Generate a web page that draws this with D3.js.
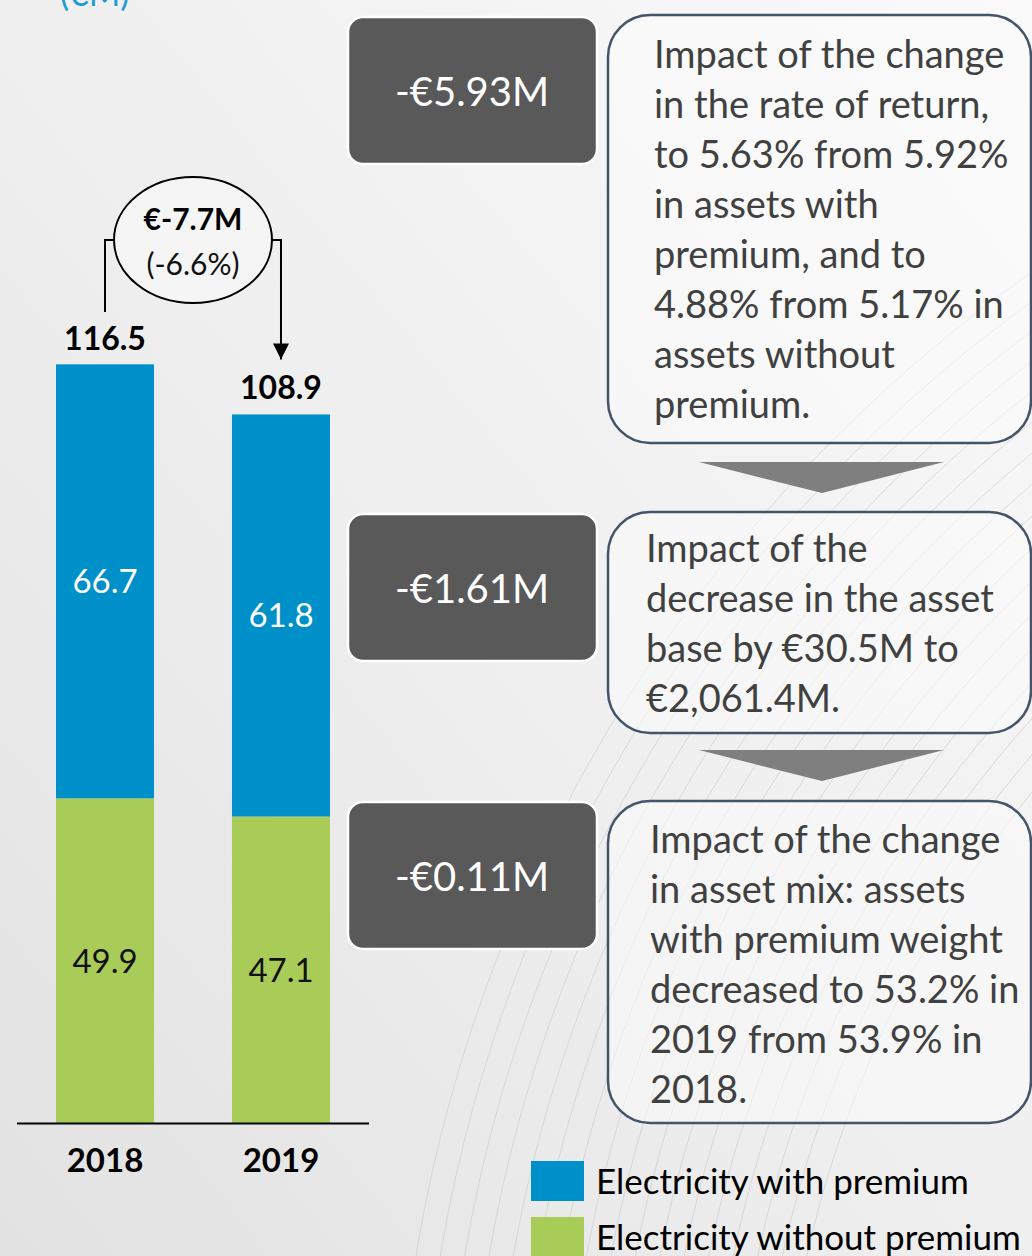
<!DOCTYPE html>
<html>
<head>
<meta charset="utf-8">
<script src="https://cdn.jsdelivr.net/npm/d3@7"></script>
<style>
  html, body { margin: 0; padding: 0; background: #eeeeee; }
  svg { display: block; font-family: Lato, "Open Sans", sans-serif; }
</style>
</head>
<body>
<div id="chart"></div>
<script>
// chart values
var years = ["2018", "2019"];
var withPremium = [66.7, 61.8];
var withoutPremium = [49.9, 47.1];
var totals = [116.5, 108.9];
var seriesNames = ["Electricity with premium", "Electricity without premium"];
var changeLabel = ["€-7.7M", "(-6.6%)"];
var impactValues = ["-€5.93M", "-€1.61M", "-€0.11M"];
var impactNotes = [
    ["Impact of the change", "in the rate of return,", "to 5.63% from 5.92%", "in assets with",
     "premium, and to", "4.88% from 5.17% in", "assets without", "premium."],
    ["Impact of the", "decrease in the asset", "base by €30.5M to", "€2,061.4M."],
    ["Impact of the change", "in asset mix: assets", "with premium weight", "decreased to 53.2% in",
     "2019 from 53.9% in", "2018."]
];

var width = 1032,
    height = 1256;

var blue = "#0090c9",
    green = "#a9cc59";

var svg = d3.select("#chart").append("svg")
    .attr("width", width)
    .attr("height", height);

var defs = svg.append("defs");

var bg = defs.append("linearGradient")
    .attr("id", "bg")
    .attr("x1", "100%").attr("y1", "0%")
    .attr("x2", "0%").attr("y2", "100%");
bg.append("stop").attr("offset", "0%").attr("stop-color", "#fafafa");
bg.append("stop").attr("offset", "55%").attr("stop-color", "#eeeeee");
bg.append("stop").attr("offset", "100%").attr("stop-color", "#e2e2e2");

svg.append("rect")
    .attr("width", width)
    .attr("height", height)
    .attr("fill", "url(#bg)");

// faint decorative arcs on the right
var arcs = svg.append("g")
    .attr("fill", "none")
    .attr("stroke", "#c8c8c8")
    .attr("stroke-width", 1)
    .attr("opacity", 0.55);
d3.range(1120, 1520, 24).forEach(function(r) {
    arcs.append("circle")
        .attr("cx", 1900)
        .attr("cy", 1500)
        .attr("r", r);
});

// unit label, clipped at top like the source
svg.append("text")
    .attr("x", 60)
    .attr("y", 6)
    .attr("fill", "#1b9bd7")
    .attr("font-size", 34)
    .text("(€M)");

// bars
var x = d3.scaleBand()
    .domain(years)
    .range([17, 369])
    .paddingInner(0.443)
    .paddingOuter(0.2216);

var y = d3.scaleLinear()
    .domain([0, 116.5])
    .range([1123, 365]);

var rows = years.map(function(yr, i) {
    return { year: yr, without: withoutPremium[i], with: withPremium[i], total: totals[i] };
});

var stack = d3.stack().keys(["without", "with"]);
var layers = stack(rows);
var colors = { without: green, with: blue };
var labelColors = { without: "#111111", with: "#ffffff" };

var layerG = svg.selectAll(".layer")
    .data(layers)
    .enter().append("g")
    .attr("class", "layer")
    .attr("fill", function(d) { return colors[d.key]; });

layerG.selectAll("rect")
    .data(function(d) { return d; })
    .enter().append("rect")
    .attr("x", function(d) { return x(d.data.year); })
    .attr("y", function(d) { return y(d[1]); })
    .attr("width", x.bandwidth())
    .attr("height", function(d) { return y(d[0]) - y(d[1]); });

layers.forEach(function(layer) {
    svg.selectAll(".lbl-" + layer.key)
        .data(layer)
        .enter().append("text")
        .attr("class", "lbl-" + layer.key)
        .attr("x", function(d) { return x(d.data.year) + x.bandwidth() / 2; })
        .attr("y", function(d) { return (y(d[0]) + y(d[1])) / 2; })
        .attr("dy", "0.36em")
        .attr("text-anchor", "middle")
        .attr("font-size", 33)
        .attr("fill", labelColors[layer.key])
        .text(function(d) { return d.data[layer.key].toFixed(1); });
});

svg.selectAll(".total")
    .data(rows)
    .enter().append("text")
    .attr("class", "total")
    .attr("x", function(d) { return x(d.year) + x.bandwidth() / 2; })
    .attr("y", function(d) { return y(d.total) - 15; })
    .attr("text-anchor", "middle")
    .attr("font-size", 32)
    .attr("font-weight", "bold")
    .attr("fill", "#000")
    .text(function(d) { return d.total.toFixed(1); });

// baseline + year labels
var xAxis = svg.append("g")
    .attr("transform", "translate(0," + y(0) + ")")
    .call(d3.axisBottom(x).tickSize(0).tickPadding(26));
xAxis.select(".domain")
    .attr("d", "M17,0.5H369")
    .attr("stroke", "#000")
    .attr("stroke-width", 2);
xAxis.selectAll("text")
    .attr("font-family", "Lato, sans-serif")
    .attr("font-size", 33)
    .attr("font-weight", "bold")
    .attr("fill", "#000");

// change bubble
var c0 = x(years[0]) + x.bandwidth() / 2,
    c1 = x(years[1]) + x.bandwidth() / 2;
var ex = 193, ey = 240, erx = 79, ery = 63;

defs.append("marker")
    .attr("id", "arrow")
    .attr("viewBox", "0 0 10 10")
    .attr("refX", 10).attr("refY", 5)
    .attr("markerWidth", 16).attr("markerHeight", 16)
    .attr("markerUnits", "userSpaceOnUse")
    .attr("orient", "auto")
    .append("path")
    .attr("d", "M0,0L10,5L0,10Z")
    .attr("fill", "#000");

svg.append("path")
    .attr("d", "M" + c0 + "," + (y(totals[0]) - 53) + "V" + ey + "H" + (ex - erx))
    .attr("fill", "none")
    .attr("stroke", "#000")
    .attr("stroke-width", 2);

svg.append("path")
    .attr("d", "M" + (ex + erx) + "," + ey + "H" + c1 + "V" + (y(totals[1]) - 55))
    .attr("fill", "none")
    .attr("stroke", "#000")
    .attr("stroke-width", 2)
    .attr("marker-end", "url(#arrow)");

svg.append("ellipse")
    .attr("cx", ex).attr("cy", ey)
    .attr("rx", erx).attr("ry", ery)
    .attr("fill", "#f5f5f5")
    .attr("stroke", "#000")
    .attr("stroke-width", 2);

svg.append("text")
    .attr("x", ex).attr("y", 230)
    .attr("text-anchor", "middle")
    .attr("font-size", 30)
    .attr("font-weight", "bold")
    .text(changeLabel[0]);
svg.append("text")
    .attr("x", ex).attr("y", 275)
    .attr("text-anchor", "middle")
    .attr("font-size", 30)
    .attr("fill", "#111")
    .text(changeLabel[1]);

// impact boxes
var boxTops = [17, 514, 802];
var boxH = 147;
var noteBoxes = [
    { x: 608, y: 15, w: 423, h: 428, tx: 654, ty: 68 },
    { x: 608, y: 512, w: 423, h: 221, tx: 646, ty: 562 },
    { x: 608, y: 801, w: 423, h: 322, tx: 650, ty: 853 }
];

impactValues.forEach(function(v, i) {
    var g = svg.append("g");
    g.append("rect")
        .attr("x", 348).attr("y", boxTops[i])
        .attr("width", 249).attr("height", boxH)
        .attr("rx", 15)
        .attr("fill", "#595959")
        .attr("stroke", "#ffffff")
        .attr("stroke-width", 2.5);
    g.append("text")
        .attr("x", 472).attr("y", boxTops[i] + 89)
        .attr("text-anchor", "middle")
        .attr("font-size", 40)
        .attr("fill", "#ffffff")
        .text(v);

    var nb = noteBoxes[i];
    g.append("rect")
        .attr("x", nb.x).attr("y", nb.y)
        .attr("width", nb.w).attr("height", nb.h)
        .attr("rx", 42)
        .attr("fill", "#fbfbfb")
        .attr("fill-opacity", 0.55)
        .attr("stroke", "#44546a")
        .attr("stroke-width", 2.5);
    g.selectAll(".note")
        .data(impactNotes[i])
        .enter().append("text")
        .attr("x", nb.tx)
        .attr("y", function(d, j) { return nb.ty + j * 50; })
        .attr("font-size", 38)
        .attr("fill", "#404040")
        .text(function(d) { return d; });
});

// chevrons between note boxes
[462, 750].forEach(function(ty) {
    svg.append("path")
        .attr("d", "M699," + ty + "H944L822," + (ty + 31) + "Z")
        .attr("fill", "#7f7f7f");
});

// legend
var legend = svg.selectAll(".legend")
    .data(seriesNames)
    .enter().append("g")
    .attr("class", "legend")
    .attr("transform", function(d, i) { return "translate(531," + (1161 + i * 56) + ")"; });
legend.append("rect")
    .attr("width", 53)
    .attr("height", 40)
    .attr("fill", function(d, i) { return i === 0 ? blue : green; });
legend.append("text")
    .attr("x", 65)
    .attr("y", 33)
    .attr("font-size", 35)
    .attr("fill", "#000")
    .text(function(d) { return d; });
</script>
</body>
</html>
